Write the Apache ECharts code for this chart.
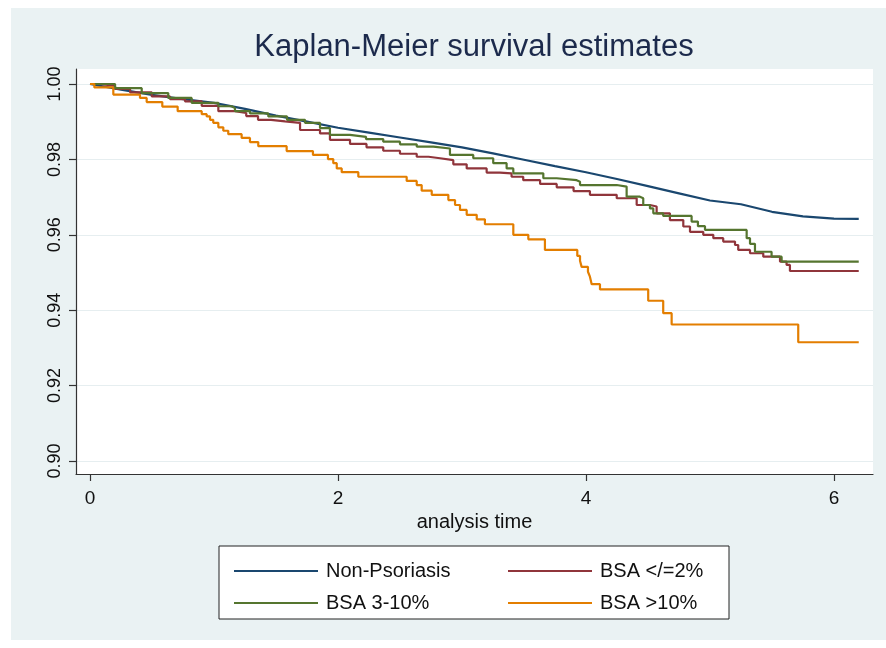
<!DOCTYPE html>
<html>
<head>
<meta charset="utf-8">
<script src="https://cdn.jsdelivr.net/npm/echarts@6/dist/echarts.min.js"></script>
<style>
  html, body { margin: 0; padding: 0; background: #ffffff; }
  #panel { position: absolute; left: 11px; top: 8px; width: 875px; height: 632px; background: #eaf2f3; }
  #chart { position: absolute; left: 0; top: 0; width: 886px; height: 648px; }
</style>
</head>
<body>
<div id="panel"></div>
<div id="chart"></div>
<script>
// ---- Data ----
const xTicks = [0, 2, 4, 6];
const yTicks = [0.90, 0.92, 0.94, 0.96, 0.98, 1.00];
const seriesNames = ['Non-Psoriasis', 'BSA </=2%', 'BSA 3-10%', 'BSA >10%'];

const nonPsoTime = [0, 0.25, 0.5, 0.75, 1.0, 1.25, 1.5, 1.75, 2.0, 2.25, 2.5, 2.75, 3.0, 3.25, 3.5, 3.75, 4.0, 4.25, 4.5, 4.75, 5.0, 5.25, 5.5, 5.75, 6.0, 6.2];
const nonPsoSurv = [1.0, 0.9985, 0.9971, 0.9960, 0.9950, 0.9934, 0.9916, 0.9900, 0.9884, 0.9871, 0.9858, 0.9845, 0.9832, 0.9816, 0.9799, 0.9782, 0.9766, 0.9748, 0.9729, 0.9710, 0.9691, 0.9681, 0.9661, 0.9649, 0.9643, 0.9642];

const bsa2Time = [0, 0.081, 0.202, 0.323, 0.498, 0.645, 0.766, 0.901, 1.035, 1.169, 1.26, 1.355, 1.46, 1.573, 1.694, 1.855, 1.935, 2.097, 2.23, 2.365, 2.50, 2.635, 2.73, 2.823, 2.93, 3.038, 3.199, 3.306, 3.40, 3.494, 3.63, 3.764, 3.90, 4.032, 4.248, 4.409, 4.516, 4.570, 4.677, 4.785, 4.839, 4.946, 5.027, 5.107, 5.202, 5.228, 5.323, 5.430, 5.565, 5.618, 5.645, 6.2];
const bsa2Surv = [1.0, 0.9995, 0.9987, 0.9978, 0.9967, 0.9960, 0.9954, 0.9942, 0.9928, 0.9923, 0.9915, 0.9905, 0.9901, 0.9897, 0.9878, 0.9869, 0.9852, 0.9841, 0.9832, 0.9823, 0.9815, 0.9807, 0.9803, 0.9798, 0.9787, 0.9776, 0.9765, 0.9763, 0.9754, 0.9745, 0.9735, 0.9726, 0.9716, 0.9706, 0.9697, 0.9679, 0.9675, 0.9657, 0.9639, 0.9622, 0.9608, 0.9600, 0.9591, 0.9582, 0.9573, 0.9560, 0.9551, 0.9542, 0.9529, 0.9520, 0.9504, 0.9504];

const bsa3Time = [0, 0.202, 0.417, 0.631, 0.820, 1.035, 1.143, 1.169, 1.290, 1.438, 1.589, 1.734, 1.855, 1.935, 2.097, 2.226, 2.365, 2.500, 2.635, 2.769, 2.903, 3.091, 3.252, 3.360, 3.414, 3.656, 3.764, 3.925, 3.952, 4.248, 4.328, 4.435, 4.462, 4.516, 4.543, 4.623, 4.852, 4.903, 4.960, 5.296, 5.323, 5.363, 5.497, 5.578, 6.2];
const bsa3Surv = [1.0, 0.9989, 0.9976, 0.9963, 0.9950, 0.9941, 0.9936, 0.9928, 0.9922, 0.9914, 0.9905, 0.9897, 0.9883, 0.9865, 0.9860, 0.9854, 0.9847, 0.9840, 0.9834, 0.9829, 0.9812, 0.9803, 0.9790, 0.9776, 0.9763, 0.9750, 0.9745, 0.9741, 0.9732, 0.9728, 0.9701, 0.9697, 0.9679, 0.9670, 0.9657, 0.9650, 0.9635, 0.9623, 0.9613, 0.9591, 0.9576, 0.9555, 0.9542, 0.9529, 0.9529];

const bsa10Time = [0, 0.035, 0.188, 0.403, 0.457, 0.583, 0.707, 0.901, 0.941, 0.968, 0.994, 1.035, 1.075, 1.115, 1.223, 1.290, 1.357, 1.586, 1.798, 1.919, 1.962, 1.990, 2.030, 2.164, 2.554, 2.635, 2.675, 2.756, 2.890, 2.944, 2.984, 3.038, 3.119, 3.185, 3.414, 3.535, 3.669, 3.930, 3.952, 3.965, 4.016, 4.032, 4.046, 4.113, 4.502, 4.623, 4.691, 5.712, 6.2];
const bsa10Surv = [1.0, 0.9991, 0.9972, 0.9963, 0.9952, 0.9940, 0.9928, 0.9920, 0.9914, 0.9905, 0.9897, 0.9885, 0.9876, 0.9867, 0.9857, 0.9846, 0.9835, 0.9822, 0.9812, 0.9801, 0.9790, 0.9776, 0.9766, 0.9754, 0.9743, 0.9732, 0.9717, 0.9706, 0.9692, 0.9679, 0.9666, 0.9653, 0.9641, 0.9628, 0.9600, 0.9588, 0.9560, 0.9544, 0.9531, 0.9515, 0.9502, 0.9489, 0.9469, 0.9455, 0.9425, 0.9392, 0.9362, 0.9315, 0.9315];

// ---- Build chart ----
const zip = (t, s) => t.map((v, i) => [v, s[i]]);
const colors = ['#1a476f', '#90353b', '#55752f', '#e37e00'];
const FONT = '"Liberation Sans", Arial, Helvetica, sans-serif';

const chart = echarts.init(document.getElementById('chart'), null, { renderer: 'canvas' });
chart.setOption({
  animation: false,
  backgroundColor: 'transparent',
  textStyle: { fontFamily: FONT },
  title: {
    text: 'Kaplan-Meier survival estimates',
    left: 474,
    textAlign: 'center',
    top: 32,
    padding: 0,
    textStyle: { fontFamily: FONT, fontSize: 31, fontWeight: 'normal', color: '#1c2a4c' }
  },
  grid: {
    left: 76, top: 69, right: 13, bottom: 174,
    show: true, backgroundColor: '#ffffff', borderWidth: 0
  },
  xAxis: {
    type: 'value',
    min: -0.113, max: 6.315,
    axisLine: { show: true, onZero: false, lineStyle: { color: '#333333', width: 1.2 } },
    axisTick: { show: true, length: 7, customValues: xTicks, lineStyle: { color: '#333333', width: 1.2 } },
    axisLabel: { customValues: xTicks, fontSize: 19, margin: 15, color: '#111111', fontFamily: FONT },
    splitLine: { show: false },
    name: 'analysis time',
    nameLocation: 'middle',
    nameGap: 38,
    nameTextStyle: { fontSize: 20, color: '#111111', fontFamily: FONT }
  },
  yAxis: {
    type: 'value',
    min: 0.89655, max: 1.00398,
    axisLine: { show: true, onZero: false, lineStyle: { color: '#333333', width: 1.2 } },
    axisTick: { show: true, length: 7, customValues: yTicks, lineStyle: { color: '#333333', width: 1.2 } },
    axisLabel: { customValues: yTicks, rotate: 90, fontSize: 18, margin: 12, color: '#111111', fontFamily: FONT,
                 formatter: v => v.toFixed(2) },
    splitLine: { show: true, lineStyle: { color: '#e6eef0', width: 1.2 } }
  },
  legend: [
    {
      data: [seriesNames[0], seriesNames[2]],
      orient: 'vertical', left: 229, top: 556,
      icon: 'rect', itemWidth: 84, itemHeight: 2, itemGap: 12,
      textStyle: { fontSize: 20, color: '#111111', fontFamily: FONT, lineHeight: 20, padding: [0, 0, 0, 3] }
    },
    {
      data: [seriesNames[1], seriesNames[3]],
      orient: 'vertical', left: 503, top: 556,
      icon: 'rect', itemWidth: 84, itemHeight: 2, itemGap: 12,
      textStyle: { fontSize: 20, color: '#111111', fontFamily: FONT, lineHeight: 20, padding: [0, 0, 0, 3] }
    }
  ],
  graphic: [
    { type: 'rect', z: 0, shape: { x: 219, y: 546, width: 510, height: 73 },
      style: { fill: '#ffffff', stroke: '#222222', lineWidth: 1 } }
  ],
  series: [
    { name: seriesNames[0], type: 'line', data: zip(nonPsoTime, nonPsoSurv), showSymbol: false,
      color: colors[0], lineStyle: { width: 2.2 } },
    { name: seriesNames[1], type: 'line', step: 'end', data: zip(bsa2Time, bsa2Surv), showSymbol: false,
      color: colors[1], lineStyle: { width: 2.2 } },
    { name: seriesNames[2], type: 'line', step: 'end', data: zip(bsa3Time, bsa3Surv), showSymbol: false,
      color: colors[2], lineStyle: { width: 2.2 } },
    { name: seriesNames[3], type: 'line', step: 'end', data: zip(bsa10Time, bsa10Surv), showSymbol: false,
      color: colors[3], lineStyle: { width: 2.2 } }
  ]
});
</script>
</body>
</html>
